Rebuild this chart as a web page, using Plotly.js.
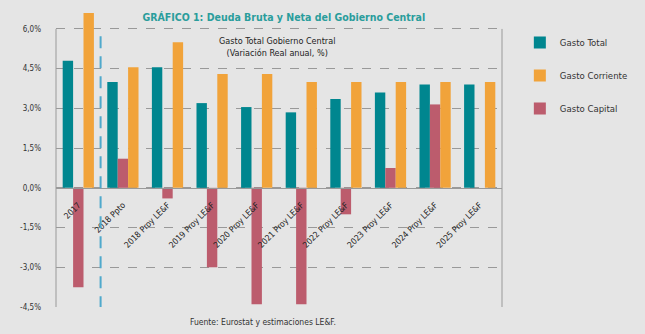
<!DOCTYPE html>
<html><head><meta charset="utf-8">
<script src="https://cdn.plot.ly/plotly-3.0.1.min.js"></script>
<style>html,body{margin:0;padding:0;background:#e5e5e5;}</style>
</head><body>
<div id="chart" style="width:645px;height:334px;"></div>
<script>
var categories = ["2017","2018 Ppto","2018 Proy LE&F","2019 Proy LE&F","2020 Proy LE&F","2021 Proy LE&F","2022 Proy LE&F","2023 Proy LE&F","2024 Proy LE&F","2025 Proy LE&F"];
var gastoTotal = [4.8, 4.0, 4.55, 3.2, 3.05, 2.85, 3.35, 3.6, 3.9, 3.9];
var gastoCorriente = [6.6, 4.55, 5.5, 4.3, 4.3, 4.0, 4.0, 4.0, 4.0, 4.0];
var gastoCapital = [-3.75, 1.1, -0.4, -3.0, -4.4, -4.4, -1.0, 0.75, 3.15, null];
var yTicks = [-4.5, -3.0, -1.5, 0, 1.5, 3.0, 4.5, 6.0];
var yTickText = yTicks.map(function(v){ return v.toFixed(1).replace('.', ',') + '%'; });

var FONT = "'DejaVu Sans Condensed', 'DejaVu Sans', sans-serif";
var Y_MIN = -4.5, Y_GRID_TOP = 6.0, Y_MAX = 6.64;

var traces = [
  {type:'bar', name:'Gasto Total', x:categories, y:gastoTotal, marker:{color:'#00868f'}, legendrank:1, legendgroup:'a'},
  {type:'bar', name:'Gasto Capital', x:categories, y:gastoCapital, marker:{color:'#bc5c6d'}, legendrank:3, legendgroup:'c'},
  {type:'bar', name:'Gasto Corriente', x:categories, y:gastoCorriente, marker:{color:'#f1a33a'}, legendrank:2, legendgroup:'b'}
];

var layout = {
  width:645, height:334,
  paper_bgcolor:'#e5e5e5', plot_bgcolor:'#e5e5e5',
  margin:{l:56, r:128, t:12, b:27},
  font:{family:FONT, color:'#333', size:9},
  barmode:'group', bargap:0.3, bargroupgap:0,
  showlegend:true,
  title:{text:'<b>GRÁFICO 1: Deuda Bruta y Neta del Gobierno Central</b>', x:0.44, xanchor:'center', y:0.949, yanchor:'middle',
         font:{family:FONT, size:10.5, color:'#2a9d9c'}},
  xaxis:{type:'category', anchor:'free', position:(0 - Y_MIN)/(Y_MAX - Y_MIN), showline:true, linecolor:'#999', linewidth:1,
         tickangle:-45, tickfont:{size:8.5, color:'#222'}, ticks:'', showgrid:false, fixedrange:true,
         ticklabelshift:0, ticklabelstandoff:8},
  yaxis:{range:[Y_MIN, Y_MAX], tickvals:yTicks, ticktext:yTickText, showline:false,
         showgrid:true, gridcolor:'#999', griddash:'dash', gridwidth:1, zeroline:false, ticks:'', ticklabelstandoff:14,
         tickfont:{size:8, color:'#333'}, layer:'below traces'},
  legend:{x:1.04, xanchor:'left', y:0.946, yanchor:'top', font:{size:9.5, color:'#333'}, tracegroupgap:14,
          itemwidth:30, bgcolor:'rgba(0,0,0,0)', traceorder:'grouped'},
  shapes:[
    {type:'line', xref:'paper', yref:'y', x0:0, x1:0, y0:Y_MIN, y1:Y_GRID_TOP, line:{color:'#999', width:1}, layer:'below'},
    {type:'line', xref:'paper', yref:'y', x0:1, x1:1, y0:Y_MIN, y1:Y_GRID_TOP, line:{color:'#999', width:1}, layer:'below'},
    {type:'line', xref:'x', yref:'y', x0:0.5, x1:0.5, y0:-4.55, y1:5.85, line:{color:'#4fa9cc', width:2, dash:'12px,8px'}}
  ],
  annotations:[
    {text:'Gasto Total Gobierno Central<br>(Variación Real anual, %)', xref:'paper', yref:'paper', x:0.495, y:(307-34)/295, xanchor:'center', yanchor:'top',
     showarrow:false, font:{size:9, color:'#222'}},
    {text:'Fuente: Eurostat y estimaciones LE&F.', xref:'paper', yref:'paper', x:(192-56)/461, y:-0.027, xanchor:'left', yanchor:'top',
     showarrow:false, font:{size:8.5, color:'#333'}}
  ]
};
Plotly.newPlot('chart', traces, layout, {staticPlot:true, displayModeBar:false});
</script>
</body></html>
